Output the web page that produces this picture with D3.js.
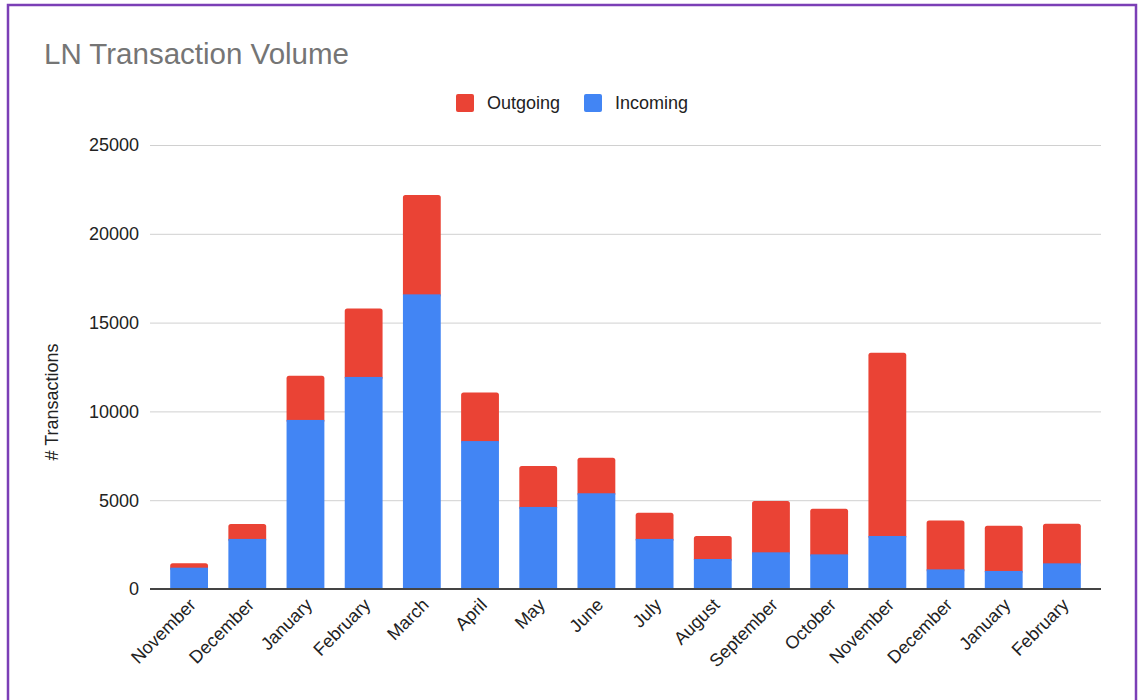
<!DOCTYPE html>
<html>
<head>
<meta charset="utf-8">
<script src="https://cdn.jsdelivr.net/npm/d3@7"></script>
<style>
  body { margin: 0; background: #fff; }
  svg { display: block; font-family: "Liberation Sans", Arial, sans-serif; }
</style>
</head>
<body>
<svg id="chart" width="1140" height="700"></svg>
<script>
// months, Nov through Feb of the year after next
var months = ["November", "December", "January", "February", "March", "April", "May", "June",
              "July", "August", "September", "October", "November", "December", "January", "February"];
var incoming = [1200, 2820, 9520, 11940, 16590, 8330, 4620, 5390, 2820, 1690, 2065, 1950, 2985, 1105, 1015, 1445];
var outgoing = [250, 840, 2490, 3860, 5590, 2740, 2300, 2000, 1480, 1295, 2890, 2570, 10315, 2745, 2550, 2235];
var yTicks = [0, 5000, 10000, 15000, 20000, 25000];

var RED = "#ea4335", BLUE = "#4285f4";

var svg = d3.select("#chart");

// frame
svg.append("rect")
  .attr("x", 8).attr("y", 5)
  .attr("width", 1128).attr("height", 720)
  .attr("fill", "none")
  .attr("stroke", "#7b3fb6")
  .attr("stroke-width", 2.5);

var rows = months.map(function (m, i) {
  return { key: i, month: m, inc: incoming[i], out: outgoing[i] };
});

var x = d3.scaleBand()
  .domain(rows.map(function (d) { return d.key; }))
  .range([160, 1091])
  .paddingInner(0.35)
  .paddingOuter(0.175);

var y = d3.scaleLinear().domain([0, 25000]).range([589, 145]);

// grid
svg.append("g").selectAll("line")
  .data(yTicks.slice(1))
  .enter().append("line")
  .attr("x1", 150).attr("x2", 1101)
  .attr("y1", function (d) { return y(d) + 0.5; })
  .attr("y2", function (d) { return y(d) + 0.5; })
  .attr("stroke", "#d0d0d0")
  .attr("stroke-width", 1);

// y labels
svg.append("g").selectAll("text")
  .data(yTicks)
  .enter().append("text")
  .attr("x", 139)
  .attr("y", function (d) { return y(d); })
  .attr("dy", "0.35em")
  .attr("text-anchor", "end")
  .attr("font-size", 18)
  .attr("fill", "#222")
  .text(function (d) { return d; });

// bars
var bars = svg.append("g").selectAll("g")
  .data(rows)
  .enter().append("g");

bars.append("rect")
  .attr("x", function (d) { return x(d.key); })
  .attr("width", x.bandwidth())
  .attr("y", function (d) { return y(d.inc + d.out); })
  .attr("height", function (d) { return y(d.inc) - y(d.inc + d.out) + 3; })
  .attr("rx", 2.5)
  .attr("fill", RED);

bars.append("rect")
  .attr("x", function (d) { return x(d.key); })
  .attr("width", x.bandwidth())
  .attr("y", function (d) { return y(d.inc); })
  .attr("height", function (d) { return y(0) - y(d.inc); })
  .attr("fill", BLUE);

// baseline
svg.append("line")
  .attr("x1", 150).attr("x2", 1101)
  .attr("y1", y(0)).attr("y2", y(0))
  .attr("stroke", "#444")
  .attr("stroke-width", 2);

// x labels
svg.append("g").selectAll("text")
  .data(rows)
  .enter().append("text")
  .attr("transform", function (d) {
    var cx = x(d.key) + x.bandwidth() / 2 + 8;
    return "translate(" + cx + ",606) rotate(-45)";
  })
  .attr("text-anchor", "end")
  .attr("font-size", 18)
  .attr("fill", "#222")
  .text(function (d) { return d.month; });

// y title
svg.append("text")
  .attr("transform", "translate(58,402) rotate(-90)")
  .attr("text-anchor", "middle")
  .attr("font-size", 18)
  .attr("fill", "#222")
  .text("# Transactions");

// title
svg.append("text")
  .attr("x", 44).attr("y", 64)
  .attr("font-size", 29.5)
  .attr("fill", "#757575")
  .text("LN Transaction Volume");

// legend
var legend = [{ name: "Outgoing", color: RED, x: 456 }, { name: "Incoming", color: BLUE, x: 584 }];
var lg = svg.append("g").selectAll("g")
  .data(legend)
  .enter().append("g")
  .attr("transform", function (d) { return "translate(" + d.x + ",94)"; });
lg.append("rect")
  .attr("width", 18).attr("height", 18)
  .attr("rx", 2)
  .attr("fill", function (d) { return d.color; });
lg.append("text")
  .attr("x", 31).attr("y", 9)
  .attr("dy", "0.35em")
  .attr("font-size", 18)
  .attr("fill", "#222")
  .text(function (d) { return d.name; });
</script>
</body>
</html>
